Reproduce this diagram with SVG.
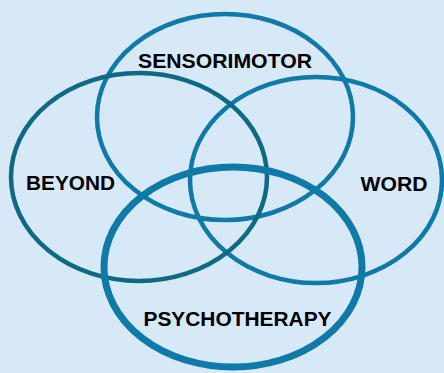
<svg xmlns="http://www.w3.org/2000/svg" width="444" height="373" viewBox="0 0 444 373">
<style>
.ring{fill:none;stroke:#0f7aa8;stroke-width:4.5}
.dark{stroke:#0e6a82}
.thick{stroke-width:7}
.lbl{font-family:"Liberation Sans",Arial,sans-serif;font-weight:bold;font-size:20px;fill:#000;text-anchor:middle}
</style>
<rect width="444" height="373" fill="#d7e8f6"/>
<g id="connectors"></g>
<g id="sensorimotor">
<ellipse class="ring" cx="225" cy="117" rx="128" ry="103"/>
<text class="lbl" x="225" y="67.5" textLength="174" lengthAdjust="spacingAndGlyphs">SENSORIMOTOR</text>
</g>
<g id="word">
<ellipse class="ring" cx="316" cy="180" rx="126" ry="103"/>
<text class="lbl" x="394" y="190.5" textLength="67" lengthAdjust="spacingAndGlyphs">WORD</text>
</g>
<g id="beyond">
<ellipse class="ring dark" cx="139" cy="177" rx="128" ry="104"/>
<text class="lbl" x="70.5" y="190" textLength="89" lengthAdjust="spacingAndGlyphs">BEYOND</text>
</g>
<g id="psychotherapy">
<ellipse class="ring thick" cx="233" cy="267" rx="129" ry="100"/>
<text class="lbl" x="237.5" y="325.5" textLength="188" lengthAdjust="spacingAndGlyphs">PSYCHOTHERAPY</text>
</g>
</svg>
